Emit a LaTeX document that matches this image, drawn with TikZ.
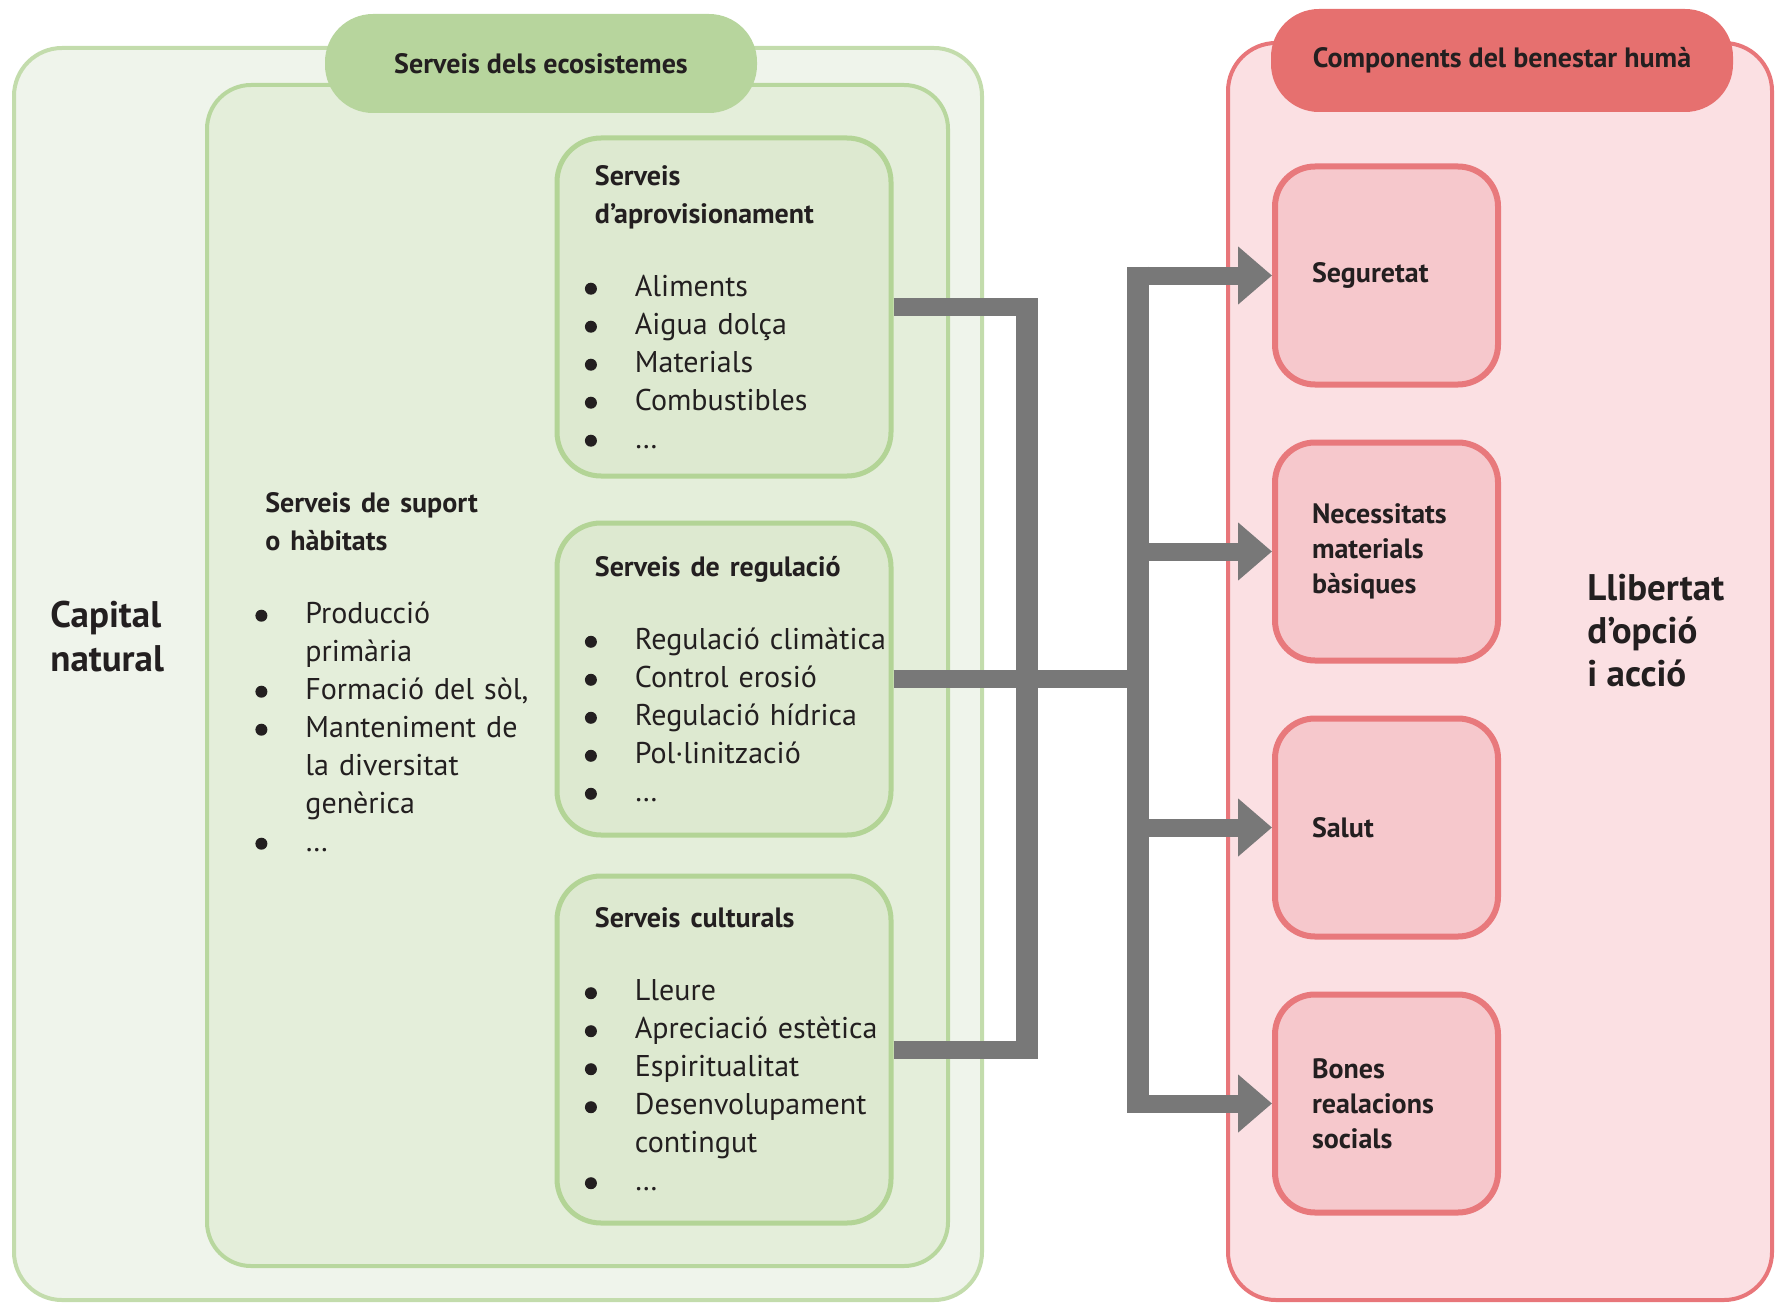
\documentclass[tikz,border=0pt]{standalone}
\usepackage{fontspec}
\setmainfont{PT Sans}
\usepackage{tikz}
\usetikzlibrary{positioning,arrows.meta,calc}

\definecolor{capfill}{HTML}{EFF4EB}
\definecolor{capline}{HTML}{C3DCAC}
\definecolor{ecofill}{HTML}{E4EEDA}
\definecolor{ecoline}{HTML}{B8D79E}
\definecolor{srvfill}{HTML}{DDE9D0}
\definecolor{srvline}{HTML}{B3D496}
\definecolor{ecopill}{HTML}{B7D59D}
\definecolor{benfill}{HTML}{FBE0E3}
\definecolor{benline}{HTML}{E8767A}
\definecolor{benpill}{HTML}{E6706F}
\definecolor{cmpfill}{HTML}{F6C8CC}
\definecolor{cmpline}{HTML}{E8797C}
\definecolor{pipegray}{HTML}{787878}
\definecolor{ink}{HTML}{231F20}

\hyphenpenalty=10000
\exhyphenpenalty=10000

\newcommand{\itm}{\hspace*{-5pt}\makebox[25pt][l]{\tikz[baseline=0pt]\fill[ink] (3pt,3.8pt) circle (3pt);}}
\newcommand{\cnt}{\hspace*{20pt}}
\newcommand{\hd}[1]{{\bfseries\fontsize{14pt}{19pt}\selectfont #1}}

\begin{document}
\begin{tikzpicture}[x=0.5pt, y=-0.5pt,
        frame/.style={draw, line width=2pt, rounded corners=24pt},
        pill/.style={rounded corners=24pt, text=ink,
            font=\bfseries\fontsize{14pt}{17pt}\selectfont},
        srv/.style={frame, draw=srvline, fill=srvfill, line width=2.5pt,
            rounded corners=22pt, minimum width=167pt},
        srvtext/.style={anchor=west, inner sep=0pt, text width=150pt, align=left,
            text=ink, font=\fontsize{15pt}{19pt}\selectfont},
        cmp/.style={draw=cmpline, fill=cmpfill, line width=3pt, rounded corners=20pt,
            minimum width=111.5pt, minimum height=109pt, inner xsep=18.5pt,
            text width=74.5pt, align=left, text=ink,
            font=\bfseries\fontsize{14pt}{17.5pt}\selectfont},
        big/.style={align=left, inner sep=0pt, anchor=west, text=ink,
            font=\bfseries\fontsize{18.5pt}{22pt}\selectfont},
        pipe/.style={draw=pipegray, line width=9pt},
        bus/.style={draw=pipegray, line width=11pt},
        flow/.style={pipe, -{Triangle[length=17pt, width=28pt]}}
    ]
    \useasboundingbox (0,0) rectangle (1776,1305);

    % capital natural / serveis dels ecosistemes
    \node[frame, draw=capline, fill=capfill, minimum width=484pt, minimum height=626pt] (cap) at (498,674) {};
    \node[frame, draw=ecoline, fill=ecofill, rounded corners=22pt,
          minimum width=370.5pt, minimum height=590.5pt] (eco) at (577.5,675.5) {};
    \node[pill, fill=ecopill, minimum width=216pt, minimum height=49.5pt] (ecotitle) at (541,63.5) {Serveis dels ecosistemes};

    \node[srv, minimum height=169pt] (prov) at (724,307) {};
    \node[srv, minimum height=156pt] (reg) at (724,679) {};
    \node[srv, minimum height=173.5pt] (cult) at (724,1049.5) {};

    \node[srvtext] (provtext) at ([xshift=20pt]prov.west)
        {\hd{Serveis}\\ \hd{d’aprovisionament}\\[17.5pt]
         \itm Aliments\\ \itm Aigua dolça\\ \itm Materials\\ \itm Combustibles\\ \itm \dots};
    \node[srvtext] (regtext) at ([xshift=20pt]reg.west)
        {\hd{Serveis de regulació}\\[17.5pt]
         \itm Regulació climàtica\\ \itm Control erosió\\ \itm Regulació hídrica\\ \itm Pol·linització\\ \itm \dots};
    \node[srvtext] (culttext) at ([xshift=20pt]cult.west)
        {\hd{Serveis culturals}\\[17.5pt]
         \itm Lleure\\ \itm Apreciació estètica\\ \itm Espiritualitat\\ \itm Desenvolupament\\ \cnt contingut\\ \itm \dots};

    \node[srvtext, text width=170pt] (suptext) at (265,672)
        {\hd{Serveis de suport}\\ \hd{o hàbitats}\\[17.5pt]
         \itm Producció\\ \cnt primària\\ \itm Formació del sòl,\\ \itm Manteniment de\\
         \cnt la diversitat\\ \cnt genèrica\\ \itm \dots};

    \node[big] (capname) at (50,637) {Capital\\natural};

    % components del benestar huma
    \node[frame, draw=benline, fill=benfill, minimum width=272pt, minimum height=628.5pt] (ben) at (1500,671.5) {};
    \node[pill, fill=benpill, minimum width=231pt, minimum height=51.5pt] (bentitle) at (1502,60.5) {Components del benestar humà};

    \node[cmp] (seg) at (1386.5,275.5) {Seguretat};
    \node[cmp, below=26pt of seg] (nec) {Necessitats\\materials\\bàsiques};
    \node[cmp, below=26pt of nec] (sal) {Salut};
    \node[cmp, below=26pt of sal] (bon) {Bones\\realacions\\socials};

    \node[big, font=\bfseries\fontsize{18.5pt}{21.5pt}\selectfont] (llib) at (1587,631) {Llibertat\\d’opció\\i acció};

    % connectors
    \coordinate (lbus) at (1027,0);
    \coordinate (rbus) at (1138,0);
    \draw[pipe] (prov.east) -- (prov.east -| lbus);
    \draw[pipe] (cult.east) -- (cult.east -| lbus);
    \draw[pipe] (reg.east) -- (reg.east -| rbus);
    \draw[bus] ($(prov.east -| lbus)+(0,-9)$) -- ($(cult.east -| lbus)+(0,9)$);
    \foreach \nd in {seg,nec,sal,bon}
        \draw[flow] (\nd.west -| rbus) -- (\nd.west);
    \draw[bus] ($(seg.west -| rbus)+(0,-9)$) -- ($(bon.west -| rbus)+(0,9)$);
\end{tikzpicture}
\end{document}
